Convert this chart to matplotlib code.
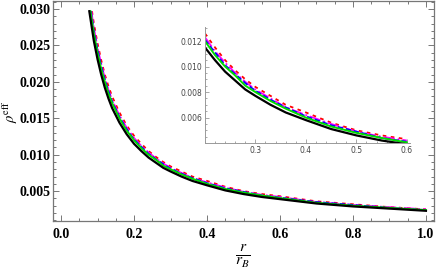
import numpy as np
import matplotlib
matplotlib.use('Agg')
import matplotlib.pyplot as plt
from matplotlib.ticker import MultipleLocator, FormatStrFormatter

plt.rcParams['mathtext.fontset'] = 'stix'

# 공통 r 격자 (r / r_B)
r_grid = [0.09, 0.10, 0.11, 0.12, 0.13, 0.14, 0.16, 0.18, 0.20, 0.22, 0.24,
          0.26, 0.28, 0.30, 0.33, 0.36, 0.40, 0.45, 0.50, 0.55, 0.60, 0.70,
          0.80, 0.90, 1.00]

# 곡선이 위쪽에서 잘리는 점
rho_top = 0.0297
r_start_black = 0.0774
r_start_green = 0.0805
r_start_blue = 0.0817
r_start_magenta = 0.0829
r_start_red = 0.0848

rho_black = [0.0256, 0.0231, 0.0210, 0.0192, 0.0177, 0.0164, 0.0144, 0.0128,
             0.0115, 0.0105, 0.0096, 0.0089, 0.0082, 0.0077, 0.0070, 0.0064,
             0.0058, 0.0051, 0.0046, 0.0042, 0.0039, 0.0033, 0.0029, 0.0026,
             0.0023]
rho_green = [0.0266, 0.0240, 0.0218, 0.0200, 0.0184, 0.0171, 0.0150, 0.0133,
             0.0120, 0.0109, 0.0100, 0.0093, 0.0085, 0.0080, 0.0073, 0.0067,
             0.0060, 0.0053, 0.0048, 0.0044, 0.00405, 0.0034, 0.0030, 0.0027,
             0.0024]
rho_blue = [0.0270, 0.0244, 0.0222, 0.0203, 0.0187, 0.0173, 0.0152, 0.0135,
            0.0121, 0.0111, 0.0101, 0.0094, 0.0087, 0.0081, 0.0074, 0.0068,
            0.0061, 0.0054, 0.0049, 0.0044, 0.0041, 0.0035, 0.0031, 0.0027,
            0.0024]
rho_magenta = [0.0274, 0.0247, 0.0225, 0.0205, 0.0189, 0.0175, 0.0154, 0.0137,
               0.0123, 0.0112, 0.0103, 0.0095, 0.0088, 0.0082, 0.0075, 0.0068,
               0.0062, 0.0055, 0.0049, 0.0045, 0.0042, 0.0035, 0.0031, 0.0028,
               0.0025]
rho_red = [0.0280, 0.0253, 0.0230, 0.0210, 0.0194, 0.0180, 0.0158, 0.0140,
           0.0126, 0.0115, 0.0105, 0.0097, 0.0090, 0.0084, 0.0077, 0.0070,
           0.0064, 0.0056, 0.0050, 0.0046, 0.0043, 0.0036, 0.0032, 0.0028,
           0.0025]

series = [
    (r_start_red, rho_red, dict(color='red', ls=(0, (2, 2.5)), lw=1.3)),
    (r_start_magenta, rho_magenta, dict(color='magenta', ls='-.', lw=1.3)),
    (r_start_blue, rho_blue, dict(color='blue', ls=(0, (3, 1.5)), lw=1.3)),
    (r_start_green, rho_green, dict(color='#00dd00', ls='-', lw=1.4)),
    (r_start_black, rho_black, dict(color='black', ls='-', lw=1.6)),
]


def draw(ax, xmin=None, xmax=None):
    for r0, rho, st in series:
        x = np.array([r0] + r_grid)
        y = np.array([rho_top] + rho)
        if xmin is not None:
            m = (x >= xmin - 1e-9) & (x <= xmax + 1e-9)
            x, y = x[m], y[m]
        ax.plot(x, y, **st)


fig = plt.figure(figsize=(4.36, 2.73), dpi=100)
ax = fig.add_axes([0.1216, 0.1905, 0.8738, 0.8058])
draw(ax)

frame_col = '#777777'
ax.set_xlim(-0.022, 1.022)
ax.set_ylim(0.0009, 0.0311)
ax.xaxis.set_major_locator(MultipleLocator(0.2))
ax.xaxis.set_minor_locator(MultipleLocator(0.05))
ax.yaxis.set_major_locator(MultipleLocator(0.005))
ax.yaxis.set_minor_locator(MultipleLocator(0.001))
ax.xaxis.set_major_formatter(FormatStrFormatter('%.1f'))
ax.yaxis.set_major_formatter(FormatStrFormatter('%.3f'))
for s in ax.spines.values():
    s.set_color(frame_col)
    s.set_linewidth(0.9)
ax.tick_params(which='both', direction='in', top=True, right=True,
               color=frame_col, width=0.7)
ax.tick_params(which='major', length=4)
ax.tick_params(which='minor', length=2)
for lab in ax.get_xticklabels() + ax.get_yticklabels():
    lab.set_fontfamily('Liberation Serif')
    lab.set_fontweight('bold')
    lab.set_fontsize(10)
ax.tick_params(axis='x', pad=5)
ax.tick_params(axis='y', pad=2)

fig.text(0.023, 0.59, r'$\rho^{\mathrm{eff}}$', rotation=90, fontsize=10.5,
         ha='center', va='center')
fig.text(0.557, 0.06, r'$\frac{r}{r_B}$', fontsize=16, ha='center',
         va='center')

# 인셋
ins = fig.add_axes([0.470, 0.476, 0.470, 0.425])
draw(ins, 0.2, 0.6)
ins.set_xlim(0.2, 0.606)
ins.set_ylim(0.004, 0.0131)
ins.xaxis.set_minor_locator(MultipleLocator(0.02))
ins.yaxis.set_minor_locator(MultipleLocator(0.0005))
ins.set_xticks([0.3, 0.4, 0.5, 0.6])
ins.set_yticks([0.006, 0.008, 0.010, 0.012])
ins.xaxis.set_major_formatter(FormatStrFormatter('%.1f'))
ins.yaxis.set_major_formatter(FormatStrFormatter('%.3f'))
ins.patch.set_alpha(0)
for side in ['top', 'right']:
    ins.spines[side].set_visible(False)
for side in ['left', 'bottom']:
    ins.spines[side].set_color('#999999')
    ins.spines[side].set_linewidth(0.7)
ins.tick_params(which='both', direction='in', color='#999999', width=0.6,
                labelsize=5.5, labelcolor='#444444', pad=2)
ins.tick_params(which='major', length=3)
ins.tick_params(which='minor', length=1.5)

fig.savefig('out.png', dpi=100)
